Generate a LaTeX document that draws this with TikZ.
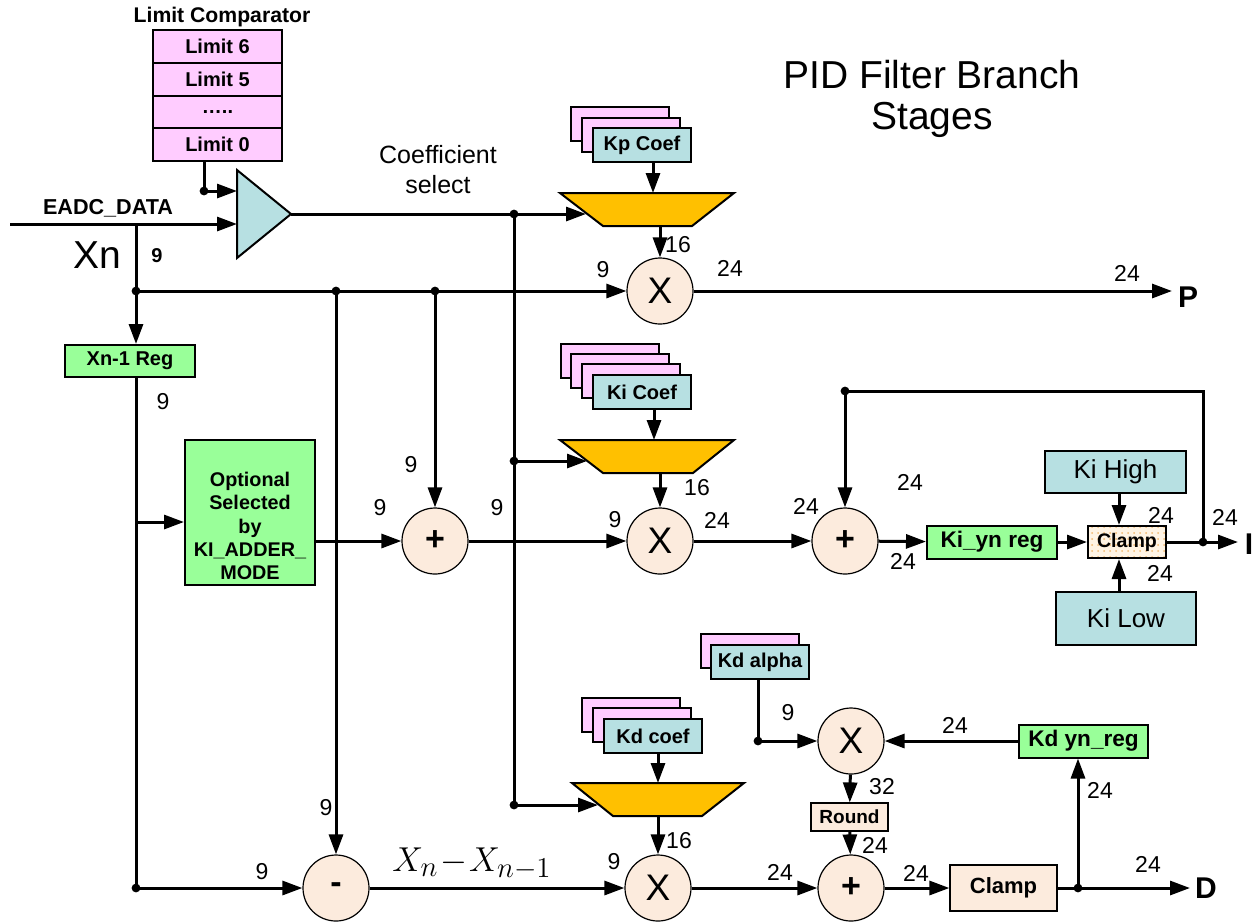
\documentclass[tikz,border=0pt]{standalone}
\usepackage{fontspec}
\setmainfont{Liberation Sans}
\usetikzlibrary{arrows.meta,calc,patterns}
\definecolor{pinkc}{HTML}{FFCCFF}
\definecolor{cyanc}{HTML}{B7E0E2}
\definecolor{greenc}{HTML}{99FF99}
\definecolor{muxc}{HTML}{FFC000}
\definecolor{peach}{HTML}{FCEBDD}
\definecolor{dotc}{HTML}{F2B870}
\definecolor{clampbg}{HTML}{FFF4E4}
\newcommand\myfs[1]{\fontsize{#1}{#1}\selectfont}
\begin{document}
\begin{tikzpicture}[x=0.5pt,y=-0.5pt,
  wire/.style={line width=1.5pt},
  arr/.style={line width=1.5pt,-{Triangle[length=10pt,width=7pt]}},
  bx/.style={draw,line width=1pt,inner sep=0,font=\bfseries\myfs{10}},
  limbox/.style={bx,fill=pinkc,minimum width=64.5pt,minimum height=16.5pt},
  coef/.style={bx,fill=cyanc,minimum width=49pt,minimum height=17pt},
  coefbk/.style={bx,fill=pinkc,minimum width=49pt,minimum height=17pt},
  reg/.style={bx,fill=greenc},
  op/.style={circle,draw,line width=0.6pt,fill=peach,minimum size=33pt,inner sep=0},
  lbl/.style={inner sep=0,font=\myfs{11.5}},
  mux/.style={draw,line width=1pt,fill=muxc}
]
\fill[white] (0,0) rectangle (1254,923);
\useasboundingbox (0,0) rectangle (1254,923);

% title
\node[inner sep=0,font=\myfs{19.5}] (title1) at (932,75) {PID Filter Branch};
\node[inner sep=0,font=\myfs{19.5}] (title2) at (932,120) {Stages};

% limit comparator
\node[inner sep=0,font=\bfseries\myfs{10.6}] (limtitle) at (222,17) {Limit Comparator};
\node[limbox] (lim6) at (217.5,46.5) {Limit 6};
\node[limbox] (lim5) at (217.5,79.5) {Limit 5};
\node[limbox] (limd) at (217.5,112) {\raisebox{-0.3ex}{…..}};
\node[limbox] (lim0) at (217.5,144.5) {Limit 0};

% comparator triangle
\coordinate (cmpA) at (291,214);
\filldraw[fill=cyanc,line width=1pt] (237,170) -- (cmpA) -- (237,258) -- cycle;
\coordinate (cmpIn1) at (237,191);
\coordinate (cmpIn2) at (237,224);
\coordinate (jLim) at (204,191);
\draw[wire] ([xshift=-6.75pt]lim0.south) -- (jLim);
\draw[arr] (jLim) -- (cmpIn1);
\fill (jLim) circle (2.2pt);

% EADC input
\node[inner sep=0,font=\bfseries\myfs{10.8}] (eadc) at (108,208) {EADC\_DATA};
\node[inner sep=0,font=\myfs{19.5}] (xn) at (97,255) {Xn};
\node[inner sep=0,font=\bfseries\myfs{10}] (n9a) at (157,256) {9};
\coordinate (eadcS) at (10,224);
\draw[arr] (eadcS) -- (cmpIn2);
\coordinate (jXn) at (136,224);
\coordinate (j291) at (136,291);
\draw[wire] (jXn) -- (j291);

% coefficient select
\node[inner sep=0,font=\myfs{12.5}] (cs1) at (438,155) {Coefficient};
\node[inner sep=0,font=\myfs{12.5}] (cs2) at (438,185) {select};
\coordinate (jCS) at (514,214);
\coordinate (jKi) at (514,461);
\coordinate (jKd) at (514,805);
\draw[wire] (cmpA) -- (jCS);
\draw[wire] (jCS) -- (jKd);

% muxes
\filldraw[mux] (560,193) -- (734,193) -- (692,226) -- (603,226) -- cycle;
\filldraw[mux] (560,440) -- (734,440) -- (693,473) -- (603,473) -- cycle;
\filldraw[mux] (572,783) -- (744,783) -- (702,816) -- (613,816) -- cycle;
\coordinate (kpIn) at (586,214);
\coordinate (kiIn) at (587,461);
\coordinate (kdIn) at (598,805);
\draw[arr] (jCS) -- (kpIn);
\draw[arr] (jKi) -- (kiIn);
\draw[arr] (jKd) -- (kdIn);
\fill (jCS) circle (2.2pt);
\fill (jKi) circle (2.2pt);
\fill (jKd) circle (2.2pt);

% coefficient stacks
\node[coefbk] (kpb2) at (620,124) {};
\node[coefbk] (kpb1) at (631,135) {};
\node[coef] (kp) at (642,145) {Kp Coef};
\node[coefbk] (kib3) at (610,361) {};
\node[coefbk] (kib2) at (620,371) {};
\node[coefbk] (kib1) at (631,381) {};
\node[coef] (ki) at (642,392) {Ki Coef};
\node[coefbk] (kdb2) at (631,715) {};
\node[coefbk] (kdb1) at (642,725) {};
\node[coef] (kd) at (653,736) {Kd coef};
\node[coefbk] (kdab) at (749.5,651) {};
\node[coef] (kda) at (760,662) {Kd alpha};

\coordinate (kpCin) at (653,193);
\coordinate (kiCin) at (654,440);
\coordinate (kdCin) at (658,783);
\draw[arr] (kp.south -| kpCin) -- (kpCin);
\draw[arr] (ki.south -| kiCin) -- (kiCin);
\draw[arr] (kd.south -| kdCin) -- (kdCin);

% operators
\node[op,font=\myfs{18.5}] (xP) at (660,291) {X};
\node[op,font=\bfseries\myfs{17}] (addI) at (435,541) {+};
\node[op,font=\myfs{18.5}] (xI) at (660,541) {X};
\node[op,font=\bfseries\myfs{17}] (accI) at (845,541) {+};
\node[op,font=\bfseries\myfs{17}] (minus) at (336,888) {-};
\node[op,font=\myfs{18.5}] (xD) at (658,888) {X};
\node[op,font=\myfs{18.5}] (xA) at (851,741) {X};
\node[op,font=\bfseries\myfs{17}] (addD) at (851,888) {+};

\coordinate (kpOut) at (660,226);
\coordinate (kiOut) at (660,473);
\coordinate (kdOut) at (658,816);
\draw[arr] (kpOut) -- (xP);
\draw[arr] (kiOut) -- (xI);
\draw[arr] (kdOut) -- (xD);

% Xn bus
\coordinate (jA) at (336,291);
\coordinate (jB) at (435,291);
\node[reg,minimum width=65pt,minimum height=16pt] (xnreg) at (130,361) {Xn-1 Reg};
\draw[arr] (j291) -- (xP);
\draw[arr] (j291) -- (j291 |- xnreg.north);
\draw[arr] (jA) -- (minus);
\draw[arr] (jB) -- (addI);
\fill (j291) circle (2.2pt);
\fill (jA) circle (2.2pt);
\fill (jB) circle (2.2pt);

% Xn-1 path
\coordinate (jBL) at (136,888);
\coordinate (jOpt) at (136,522);
\node[reg,minimum width=65pt,minimum height=72.5pt] (opt) at (250,512.5) {};
\node[inner sep=0,align=center,font=\bfseries\fontsize{9.9}{11.6}\selectfont] (optText) at (250,526) {Optional\\Selected\\by\\KI\_ADDER\_\\MODE};
\draw[wire] (xnreg.south -| jBL) -- (jBL);
\draw[arr] (jOpt) -- (opt.west |- jOpt);
\draw[arr] (jBL) -- (minus);
\fill (jBL) circle (2.2pt);
\draw[arr] (opt.east |- addI) -- (addI);
\draw[arr] (addI) -- (xI);

% P output
\coordinate (Pend) at (1172,291);
\draw[arr] (xP) -- (Pend);
\node[inner sep=0,font=\bfseries\myfs{15}] (Pl) at (1188,297) {P};

% I branch
\node[reg,minimum width=65pt,minimum height=16.5pt,font=\bfseries\myfs{11.3}] (kiyn) at (992,542) {Ki\_yn reg};
\node[draw,line width=1pt,inner sep=0,minimum width=39pt,minimum height=16pt,font=\bfseries\myfs{9.8},preaction={fill=clampbg},pattern=dots,pattern color=dotc] (clampI) at (1127,542) {Clamp};
\node[draw,line width=1pt,fill=cyanc,inner sep=0,minimum width=70.5pt,minimum height=21pt,font=\myfs{13}] (kihigh) at (1115.5,472) {Ki High};
\node[draw,line width=1pt,fill=cyanc,inner sep=0,minimum width=70pt,minimum height=26.5pt,font=\myfs{13}] (kilow) at (1126,618.5) {Ki Low};
\coordinate (ciX) at (1119,0);
\draw[arr] (xI) -- (accI);
\draw[arr] (accI) -- (kiyn);
\draw[arr] (kiyn) -- (clampI);
\draw[arr] (kihigh.south -| ciX) -- (ciX |- clampI.north);
\draw[arr] (kilow.north -| ciX) -- (ciX |- clampI.south);
\coordinate (jI) at (1203,542);
\coordinate (Iend) at (1238,542);
\coordinate (fbR) at (1203,391);
\coordinate (fbL) at (845,391);
\draw[wire] (clampI) -- (jI);
\draw[arr] (jI) -- (Iend);
\draw[wire] (jI) -- (fbR) -- (fbL);
\draw[arr] (fbL) -- (accI);
\fill (jI) circle (2.2pt);
\fill (fbL) circle (2.2pt);
\node[inner sep=0,font=\bfseries\myfs{15}] (Il) at (1249,544) {I};

% D branch
\node[reg,minimum width=64.5pt,minimum height=16.5pt,font=\bfseries\myfs{11.3}] (kdyn) at (1083.5,741) {Kd yn\_reg};
\node[draw,line width=0.6pt,fill=peach,inner sep=0,minimum width=38.5pt,minimum height=14pt,font=\bfseries\myfs{9.5}] (round) at (849.5,817) {Round};
\node[draw,line width=0.6pt,fill=peach,inner sep=0,minimum width=53.5pt,minimum height=23pt,font=\bfseries\myfs{11}] (clampD) at (1003.5,888) {Clamp};
\coordinate (jAl) at (758,741);
\draw[wire] (kda.south -| jAl) -- (jAl);
\draw[arr] (jAl) -- (xA);
\fill (jAl) circle (2.2pt);
\draw[arr] (kdyn) -- (xA);
\draw[arr] (xA) -- (round);
\draw[arr] (round) -- (addD);
\draw[arr] (minus) -- (xD);
\draw[arr] (xD) -- (addD);
\draw[arr] (addD) -- (clampD);
\coordinate (jD) at (1078,888);
\coordinate (Dend) at (1190,888);
\draw[wire] (clampD) -- (jD);
\draw[arr] (jD) -- (Dend);
\draw[arr] (jD) -- (jD |- kdyn.south);
\fill (jD) circle (2.2pt);
\node[inner sep=0,font=\bfseries\myfs{15}] (Dl) at (1206,888) {D};

% math label
\node[inner sep=0,font=\myfs{19}] (diff) at (472,864) {$X_n\!-\!X_{n-1}$};

% width labels
\node[lbl] (l1) at (678,245) {16};
\node[lbl] (l2) at (603,270) {9};
\node[lbl] (l3) at (730,268) {24};
\node[lbl] (l4) at (1127,273) {24};
\node[lbl] (l5) at (163,402) {9};
\node[lbl] (l6) at (411,465) {9};
\node[lbl] (l7) at (380,508) {9};
\node[lbl] (l8) at (497,508) {9};
\node[lbl] (l9) at (697,488) {16};
\node[lbl] (l10) at (615,520) {9};
\node[lbl] (l11) at (717,520) {24};
\node[lbl] (l12) at (806,506) {24};
\node[lbl] (l13) at (910,482) {24};
\node[lbl] (l14) at (903,561) {24};
\node[lbl] (l15) at (1161,515) {24};
\node[lbl] (l16) at (1225,517) {24};
\node[lbl] (l17) at (1160,573) {24};
\node[lbl] (l18) at (788,713) {9};
\node[lbl] (l19) at (955,725) {24};
\node[lbl] (l20) at (882,787) {32};
\node[lbl] (l21) at (1100,790) {24};
\node[lbl] (l22) at (875,845) {24};
\node[lbl] (l23) at (326,808) {9};
\node[lbl] (l24) at (262,872) {9};
\node[lbl] (l25) at (614,862) {9};
\node[lbl] (l26) at (679,841) {16};
\node[lbl] (l27) at (780,872) {24};
\node[lbl] (l28) at (916,873) {24};
\node[lbl] (l29) at (1148,864) {24};
\end{tikzpicture}
\end{document}
